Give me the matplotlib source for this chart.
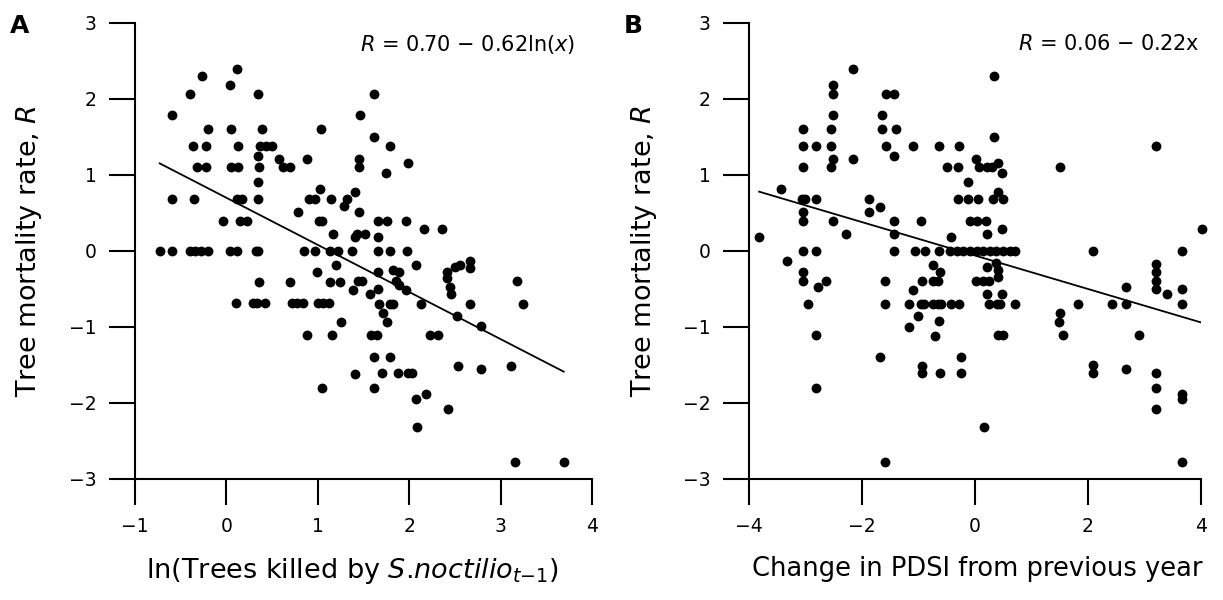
import numpy as np
import matplotlib
matplotlib.use("Agg")
import matplotlib.pyplot as plt

# panel A: ln(trees killed by S. noctilio, t-1) vs tree mortality rate R
kill_pts = [
    (-0.59, 1.79), (-0.40, 2.07), (-0.27, 2.30), (0.04, 2.19), (0.12, 2.39), (0.34, 2.07),
    (-0.20, 1.61), (0.05, 1.61), (0.39, 1.61), (1.04, 1.61),
    (-0.37, 1.38), (-0.22, 1.38), (0.13, 1.38), (0.37, 1.38), (0.43, 1.38), (0.50, 1.38),
    (0.34, 1.25), (0.57, 1.21), (0.88, 1.21),
    (-0.32, 1.10), (-0.22, 1.10), (0.05, 1.10), (0.13, 1.10), (0.36, 1.10), (0.62, 1.10), (0.70, 1.10),
    (0.34, 0.91), (-0.59, 0.69), (-0.35, 0.69), (0.12, 0.69), (0.17, 0.69), (0.35, 0.69),
    (1.02, 0.81), (0.90, 0.69), (0.97, 0.69), (1.14, 0.69), (1.32, 0.69), (1.29, 0.59),
    (1.41, 0.77), (1.45, 0.51), (0.78, 0.51),
    (-0.04, 0.40), (0.15, 0.40), (0.22, 0.40), (1.01, 0.40), (1.05, 0.40),
    (1.17, 0.22), (1.43, 0.22), (1.52, 0.22), (1.41, 0.19),
    (1.45, 1.21), (1.45, 1.10), (1.46, 1.79), (1.61, 2.07), (1.61, 1.50), (1.79, 1.38),
    (1.99, 1.16), (1.75, 1.03), (1.66, 0.40), (1.76, 0.40), (1.96, 0.40),
    (2.16, 0.29), (2.36, 0.29), (1.66, 0.18),
    (-0.73, 0.0), (-0.59, 0.0), (-0.40, 0.0), (-0.34, 0.0), (-0.28, 0.0), (-0.20, 0.0),
    (0.04, 0.0), (0.12, 0.0), (0.32, 0.0), (0.35, 0.0), (0.85, 0.0), (0.97, 0.0),
    (1.13, 0.0), (1.22, 0.0), (1.37, 0.0), (1.66, 0.0), (1.79, 0.0), (1.98, 0.0),
    (0.99, -0.28), (1.20, -0.19), (2.07, -0.19), (1.66, -0.28), (1.82, -0.25), (1.89, -0.28),
    (2.41, -0.28), (2.41, -0.36), (2.45, -0.47), (2.46, -0.57),
    (2.50, -0.21), (2.56, -0.19), (2.66, -0.13), (2.66, -0.23),
    (0.36, -0.41), (0.70, -0.41), (1.13, -0.41), (1.24, -0.41), (1.44, -0.40), (1.48, -0.40),
    (1.38, -0.51), (1.57, -0.56), (1.66, -0.50), (1.85, -0.40), (1.89, -0.45), (1.96, -0.51),
    (0.10, -0.69), (0.29, -0.69), (0.33, -0.69), (0.42, -0.69), (0.72, -0.69), (0.77, -0.69),
    (0.84, -0.69), (1.00, -0.69), (1.06, -0.69), (1.12, -0.69),
    (1.67, -0.70), (1.79, -0.70), (1.82, -0.70), (2.13, -0.70), (2.66, -0.70),
    (1.25, -0.93), (1.71, -0.82), (1.76, -0.93), (2.52, -0.86), (2.78, -0.99),
    (0.88, -1.11), (1.15, -1.11), (1.58, -1.11), (1.65, -1.11), (2.23, -1.11), (2.31, -1.11),
    (1.61, -1.39), (1.79, -1.39),
    (1.41, -1.62), (1.70, -1.61), (1.88, -1.61), (1.99, -1.61), (2.03, -1.61),
    (1.05, -1.80), (1.61, -1.80), (2.53, -1.51), (2.78, -1.55), (3.11, -1.51),
    (3.18, -0.40), (3.25, -0.70),
    (2.07, -1.95), (2.18, -1.88), (2.42, -2.08), (2.08, -2.31), (3.16, -2.78), (3.69, -2.78),
]
kill_fit = (0.70, -0.62)

# panel B: change in PDSI vs tree mortality rate R
pdsi_pts = [
    (-3.82, 0.18), (-3.44, 0.81), (-3.33, -0.13),
    (-3.04, 1.60), (-3.04, 1.38), (-3.04, 1.10), (-3.07, 0.69), (-3.01, 0.69), (-3.04, 0.51),
    (-3.04, 0.40), (-3.04, 0.0), (-3.04, -0.28), (-3.04, -0.39), (-2.95, -0.70),
    (-2.81, 1.38), (-2.81, 0.69), (-2.81, 0.0), (-2.77, -0.47), (-2.64, -0.39),
    (-2.81, -1.11), (-2.81, -1.80),
    (-2.51, 2.19), (-2.51, 2.07), (-2.51, 1.79), (-2.54, 1.60), (-2.54, 1.38), (-2.51, 1.21),
    (-2.54, 1.10), (-2.51, 0.40), (-2.28, 0.22), (-2.16, 2.39), (-2.16, 1.21),
    (-1.88, 0.69), (-1.88, 0.51), (-1.68, 0.58), (-1.64, 1.79), (-1.64, 1.60),
    (-1.58, 2.07), (-1.43, 2.07), (-1.39, 1.60), (-1.58, 1.38), (-1.43, 1.25),
    (-1.43, 0.40), (-1.43, 0.22), (-1.43, 0.0), (-1.59, -0.40), (-1.59, -0.70),
    (-1.68, -1.39), (-1.59, -2.78),
    (-1.10, 1.38), (-0.63, 1.38), (-0.28, 1.38), (-0.50, 1.10), (-0.30, 1.10),
    (0.02, 1.21), (0.08, 1.10), (0.21, 1.10), (0.30, 1.10), (0.41, 1.16), (0.47, 1.03),
    (0.34, 2.30), (0.34, 1.50), (-0.13, 0.91),
    (-0.30, 0.69), (-0.12, 0.69), (0.06, 0.69), (0.32, 0.69), (0.41, 0.77), (0.50, 0.69),
    (-0.96, 0.40), (-0.09, 0.40), (0.04, 0.40), (0.19, 0.40), (0.47, 0.29), (0.21, 0.22),
    (-0.42, 0.19),
    (-1.06, 0.0), (-0.88, 0.0), (-0.63, 0.0), (-0.44, 0.0), (-0.32, 0.0), (-0.21, 0.0),
    (-0.09, 0.0), (0.03, 0.0), (0.15, 0.0), (0.27, 0.0), (0.38, 0.0), (0.50, 0.0),
    (0.62, 0.0), (0.71, 0.0), (2.08, 0.0), (3.66, 0.0),
    (-0.74, -0.18), (-0.62, -0.28), (-1.09, -0.51), (-0.94, -0.40), (-0.74, -0.40), (-0.65, -0.40),
    (0.21, -0.21), (0.38, -0.16), (0.41, -0.25), (0.41, -0.34),
    (0.02, -0.40), (0.15, -0.40), (0.24, -0.40), (0.21, -0.56), (0.47, -0.56),
    (-1.16, -0.70), (-0.95, -0.70), (-0.90, -0.70), (-0.74, -0.70), (-0.65, -0.70),
    (-0.60, -0.70), (-0.42, -0.70), (-0.28, -0.70),
    (0.24, -0.70), (0.39, -0.70), (0.45, -0.70), (0.70, -0.70),
    (-1.00, -0.86), (-0.63, -0.92), (-1.16, -1.00), (-0.71, -1.12), (0.41, -1.11), (0.50, -1.11),
    (-0.25, -1.39), (-0.93, -1.51), (-0.93, -1.61), (-0.62, -1.61), (-0.25, -1.61), (0.16, -2.31),
    (1.50, 1.10), (1.50, -0.82), (1.49, -0.93), (1.56, -1.11), (1.83, -0.70),
    (2.08, -1.50), (2.08, -1.61), (2.42, -0.70), (2.68, -0.47), (2.68, -0.70), (2.91, -1.11),
    (2.68, -1.55), (3.21, 1.38),
    (3.20, -0.17), (3.20, -0.28), (3.20, -0.39), (3.20, -0.50), (3.40, -0.57),
    (3.66, -0.50), (3.66, -0.70), (3.21, -1.61), (3.20, -1.80), (3.20, -2.08),
    (3.66, -1.88), (3.66, -1.95), (3.66, -2.78), (4.01, 0.29),
]
pdsi_fit = (-0.06, -0.22)

xticks_a = [-1, 0, 1, 2, 3, 4]
xticks_b = [-4, -2, 0, 2, 4]
yticks = [-3, -2, -1, 0, 1, 2, 3]

plt.rcParams['font.family'] = ['DejaVu Sans']
plt.rcParams['mathtext.fontset'] = 'dejavusans'

fig = plt.figure(figsize=(12.23, 6.0), dpi=100)
ax_a = fig.add_axes([0.1104, 0.2017, 0.3737, 0.76])
ax_b = fig.add_axes([0.6124, 0.2017, 0.3696, 0.76])


def style_axis(ax, xticks, xlim):
    ax.set_xlim(*xlim)
    ax.set_ylim(-3, 3)
    ax.set_xticks(xticks)
    ax.set_yticks(yticks)
    ax.set_xticklabels([str(t).replace('-', '\u2212') for t in xticks])
    ax.set_yticklabels([str(t).replace('-', '\u2212') for t in yticks])
    for s in ['top', 'right']:
        ax.spines[s].set_visible(False)
    for s in ['left', 'bottom']:
        ax.spines[s].set_linewidth(1.5)
    ax.tick_params(direction='out', length=18.5, width=1.5, labelsize=13.5, pad=9)
    ax.set_ylabel('Tree mortality rate, $R$', fontsize=19.5)
    ax.yaxis.set_label_coords(-0.20, 0.5)


def draw(ax, pts, fit):
    pts = np.array(pts)
    ax.scatter(pts[:, 0], pts[:, 1], s=50, color='black', linewidths=0, clip_on=False, zorder=3)
    xs = np.array([pts[:, 0].min(), pts[:, 0].max()])
    ax.plot(xs, fit[0] + fit[1] * xs, color='black', lw=1.3, zorder=2)


draw(ax_a, kill_pts, kill_fit)
style_axis(ax_a, xticks_a, (-1, 4))
ax_a.set_xlabel('ln(Trees killed by $S$.$noctilio_{t{-}1}$)', fontsize=19.5)
ax_a.xaxis.set_label_coords(0.475, -0.17)
ax_a.text(3.82, 2.72, '$R$ = 0.70 \u2212 0.62ln($x$)', fontsize=15, ha='right', va='center')

draw(ax_b, pdsi_pts, pdsi_fit)
style_axis(ax_b, xticks_b, (-4, 4))
ax_b.set_xlabel('Change in PDSI from previous year', fontsize=18.5)
ax_b.xaxis.set_label_coords(0.505, -0.17)
ax_b.text(3.98, 2.72, '$R$ = 0.06 \u2212 0.22x', fontsize=15, ha='right', va='center')

fig.text(0.0164, 0.957, 'A', fontsize=18, fontweight='bold', ha='center', va='center')
fig.text(0.5176, 0.957, 'B', fontsize=18, fontweight='bold', ha='center', va='center')

fig.savefig('out.png', dpi=100)
